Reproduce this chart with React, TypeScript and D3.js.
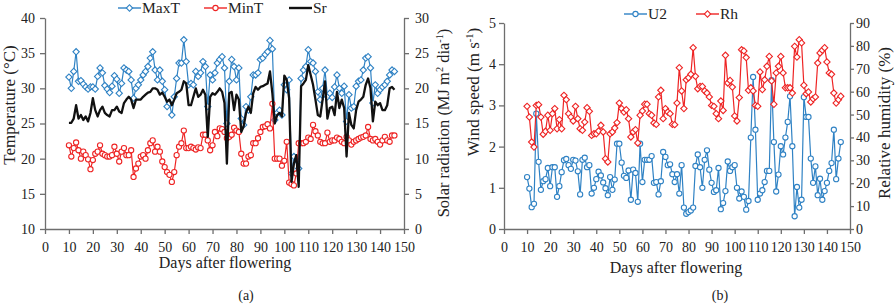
import { useEffect, useRef } from 'react';
import * as d3 from 'd3';

// daily weather, day 10 .. 146 after flowering
const FIRST_DAY = 10;

const maxT = [
  31.6, 30.0, 32.4, 35.2, 31.0, 31.1, 30.6, 30.2, 29.9, 30.2, 30.2, 29.9, 31.7, 32.9, 32.2, 30.4, 29.9, 29.4, 30.3, 31.8,
  31.3, 29.3, 30.7, 32.9, 32.6, 32.4, 31.2, 28.6, 30.0, 30.5, 31.2, 31.9, 32.4, 33.1, 34.3, 35.2, 32.6, 31.2, 32.6, 31.0,
  29.8, 27.4, 27.9, 26.2, 28.8, 31.4, 33.6, 33.6, 36.9, 33.8, 30.5, 30.7, 30.5, 32.4, 31.7, 32.2, 33.8, 33.1, 27.4, 31.9,
  31.2, 32.2, 33.6, 34.1, 34.5, 32.9, 25.0, 31.0, 34.1, 33.1, 31.2, 32.9, 25.7, 24.8, 27.4, 26.9, 28.8, 31.9, 31.9, 32.2,
  34.1, 34.3, 34.8, 35.2, 36.8, 35.6, 25.5, 26.5, 26.9, 26.2, 30.5, 29.8, 31.2, 17.9, 20.3, 19.8, 18.6, 31.4, 32.6, 33.1,
  35.5, 33.8, 33.6, 32.4, 29.5, 28.4, 30.0, 32.6, 28.8, 29.3, 28.7, 30.2, 31.9, 30.0, 29.3, 30.3, 25.3, 29.1, 27.2, 27.4,
  30.3, 31.0, 31.2, 32.6, 34.3, 34.5, 32.9, 27.9, 30.5, 29.3, 29.8, 30.2, 30.5, 31.0, 31.9, 32.6, 32.4,
];

const minT = [
  21.9, 20.3, 21.5, 22.3, 21.2, 20.0, 21.0, 20.5, 19.9, 18.5, 19.8, 20.7, 21.0, 21.9, 20.7, 20.5, 20.3, 20.3, 20.5, 21.7,
  20.7, 19.6, 21.0, 21.5, 20.5, 20.5, 21.2, 17.4, 18.6, 19.3, 20.3, 20.5, 20.0, 21.2, 22.2, 22.6, 21.0, 21.7, 21.0, 19.6,
  18.8, 18.1, 17.7, 16.7, 18.1, 20.5, 21.7, 22.2, 24.0, 21.5, 21.5, 21.7, 21.5, 21.3, 21.6, 21.5, 23.4, 23.4, 22.6, 21.2,
  21.9, 23.8, 23.2, 24.3, 24.2, 23.8, 22.9, 23.1, 23.4, 24.4, 24.0, 23.8, 20.7, 19.3, 19.3, 20.3, 20.5, 22.2, 22.2, 22.9,
  23.8, 24.5, 24.6, 24.9, 24.3, 27.8, 20.0, 20.0, 20.0, 19.0, 19.7, 22.4, 16.6, 16.4, 16.2, 17.9, 22.2, 22.2, 22.2, 22.4,
  23.0, 22.8, 24.8, 23.9, 23.3, 22.4, 22.2, 22.2, 23.7, 22.4, 22.6, 22.6, 23.0, 22.8, 22.4, 22.2, 23.1, 22.6, 22.0, 22.4,
  22.6, 22.8, 23.0, 23.1, 23.3, 24.5, 22.8, 22.6, 22.8, 22.4, 22.0, 22.6, 23.1, 22.6, 22.4, 23.3, 23.3,
];

const sr = [
  15.1, 15.1, 15.7, 17.6, 15.7, 16.2, 15.5, 16.0, 15.3, 16.5, 18.6, 16.9, 16.0, 16.9, 17.4, 16.5, 16.2, 16.0, 16.9, 16.9,
  17.4, 16.7, 16.5, 17.9, 18.4, 18.8, 18.4, 17.2, 18.4, 18.4, 18.4, 18.8, 19.1, 19.4, 19.5, 20.0, 20.0, 19.8, 19.1, 19.4,
  18.8, 18.1, 18.4, 17.6, 18.4, 19.3, 19.5, 19.8, 21.0, 20.7, 17.6, 17.6, 18.8, 20.0, 18.8, 19.1, 19.8, 19.1, 13.1, 18.8,
  19.3, 19.1, 19.5, 20.0, 19.5, 17.9, 9.3, 19.3, 19.5, 16.9, 19.1, 18.4, 13.8, 14.6, 16.5, 17.4, 16.5, 19.3, 20.2, 19.8,
  20.2, 20.3, 20.5, 20.7, 22.4, 19.3, 15.0, 16.2, 16.5, 16.0, 21.8, 21.2, 18.6, 6.7, 9.3, 10.5, 6.0, 20.3, 20.7, 21.2,
  23.3, 21.9, 20.5, 18.4, 16.2, 16.0, 18.4, 21.0, 15.7, 17.2, 17.4, 16.2, 19.5, 17.2, 18.4, 17.2, 10.3, 16.5, 14.8, 14.3,
  16.9, 18.1, 18.4, 18.8, 20.5, 21.4, 20.0, 15.3, 18.1, 17.6, 17.9, 16.9, 16.9, 17.6, 20.0, 20.2, 19.8,
];

const u2 = [
  1.26, 0.98, 0.53, 0.61, 2.80, 1.63, 0.95, 1.16, 1.21, 1.48, 1.04, 1.50, 1.50, 0.78, 1.04, 1.38, 1.67, 1.70, 1.55, 1.46,
  1.68, 1.66, 1.40, 0.84, 1.68, 1.73, 1.50, 1.55, 0.86, 1.00, 1.21, 1.39, 1.30, 1.13, 0.99, 0.82, 1.26, 0.95, 1.20, 2.07,
  2.07, 1.61, 1.29, 1.24, 1.42, 0.71, 1.44, 1.36, 0.66, 2.07, 1.14, 1.68, 1.68, 1.68, 1.77, 1.12, 1.14, 0.84, 1.16, 1.87,
  1.75, 1.55, 1.57, 1.33, 1.14, 1.33, 0.86, 1.55, 0.52, 0.37, 0.41, 0.45, 0.52, 1.53, 1.81, 1.50, 1.00, 1.68, 1.91, 1.44,
  1.12, 0.90, 0.94, 1.48, 0.48, 0.63, 0.92, 1.64, 1.41, 1.50, 1.55, 1.00, 0.74, 0.91, 0.78, 0.47, 0.68, 2.22, 3.69, 2.41,
  0.71, 0.86, 0.94, 1.14, 1.41, 1.41, 3.61, 2.11, 0.91, 1.32, 2.01, 1.81, 2.22, 2.60, 3.22, 2.01, 0.31, 1.02, 0.52, 0.71,
  3.20, 2.72, 2.72, 1.71, 1.12, 1.52, 0.82, 1.22, 0.71, 0.92, 1.12, 1.41, 1.60, 2.41, 1.21, 1.71, 2.11,
];

const rh = [
  53.6, 48.9, 38.0, 35.8, 54.0, 54.3, 48.9, 41.4, 42.7, 49.7, 43.1, 50.4, 52.6, 43.8, 47.8, 43.8, 58.4, 56.5, 50.4, 48.9,
  47.2, 53.6, 48.2, 43.8, 43.1, 46.7, 53.0, 51.4, 40.9, 41.6, 41.6, 42.8, 45.3, 42.4, 30.7, 29.3, 41.6, 42.4, 44.1, 46.5,
  55.0, 52.6, 51.1, 52.1, 48.2, 40.2, 42.4, 43.4, 37.6, 49.7, 51.6, 54.5, 54.5, 50.4, 49.7, 46.3, 45.7, 57.7, 60.6, 48.2,
  52.6, 51.1, 50.4, 45.7, 45.6, 55.0, 70.5, 60.3, 52.6, 65.2, 66.1, 67.6, 79.2, 66.7, 61.3, 62.3, 62.3, 60.3, 59.4, 57.7,
  54.0, 53.6, 50.4, 48.2, 55.9, 51.8, 75.9, 63.8, 64.9, 62.0, 49.4, 47.2, 57.4, 78.3, 77.8, 74.9, 60.6, 61.7, 60.3, 54.0,
  53.6, 68.6, 60.9, 65.2, 71.1, 75.4, 64.7, 54.5, 68.2, 71.1, 75.4, 68.2, 61.7, 61.7, 61.7, 59.4, 79.8, 75.1, 82.7, 81.3,
  62.8, 59.1, 59.9, 55.5, 56.9, 57.7, 72.5, 76.9, 78.1, 79.2, 73.0, 68.2, 67.6, 59.4, 55.0, 56.5, 58.0,
];

const dayTicks = d3.range(0, 151, 10);
const tempTicks = [10, 15, 20, 25, 30, 35, 40];
const srTicks = [0, 5, 10, 15, 20, 25, 30];
const windTicks = [0, 1, 2, 3, 4, 5];
const rhTicks = [0, 10, 20, 30, 40, 50, 60, 70, 80, 90];

const BLUE = '#2f82c4';
const RED = '#ee2424';
const AXIS = '#6e6e6e';
const FONT = 'Liberation Serif';

export default function App() {
  const svgRef = useRef<SVGSVGElement>(null);

  useEffect(() => {
    if (!svgRef.current) return;
    const svg = d3.select(svgRef.current);
    svg.selectAll('*').remove();
    svg.attr('font-family', FONT);

    const days = maxT.map((_, i) => FIRST_DAY + i);
    const fmt = d3.format('d');

    // axis look: grey lines, serif labels
    const styleAxis = (g: any) => {
      g.attr('font-family', FONT).attr('font-size', 14);
      g.select('.domain').attr('stroke', AXIS).attr('stroke-width', 1.3);
      g.selectAll('.tick line').attr('stroke', AXIS).attr('stroke-width', 1.3);
      g.selectAll('.tick text').attr('fill', '#222').attr('font-family', FONT).attr('font-size', 14);
    };

    const marker = (g: any, kind: string, color: string, cx: number, cy: number) => {
      if (kind === 'diamond') {
        g.append('path')
          .attr('d', d3.symbol().type(d3.symbolSquare).size(20)())
          .attr('transform', `translate(${cx},${cy}) rotate(45)`)
          .attr('fill', '#fff')
          .attr('stroke', color)
          .attr('stroke-width', 1.1);
      } else if (kind === 'circle') {
        g.append('circle')
          .attr('cx', cx)
          .attr('cy', cy)
          .attr('r', 2.6)
          .attr('fill', '#fff')
          .attr('stroke', color)
          .attr('stroke-width', 1.1);
      }
    };

    const drawSeries = (g: any, x: any, y: any, values: number[], color: string, width: number, kind: string) => {
      const line = d3.line<number>()
        .x((_, i) => x(days[i]))
        .y(d => y(d));
      g.append('path')
        .datum(values)
        .attr('fill', 'none')
        .attr('stroke', color)
        .attr('stroke-width', width)
        .attr('stroke-linejoin', 'round')
        .attr('d', line);
      if (kind !== 'none') {
        values.forEach((v, i) => marker(g, kind, color, x(days[i]), y(v)));
      }
    };

    const legendItem = (x0: number, y0: number, label: string, color: string, width: number, kind: string) => {
      const lg = svg.append('g');
      lg.append('line')
        .attr('x1', x0).attr('x2', x0 + 23)
        .attr('y1', y0).attr('y2', y0)
        .attr('stroke', color).attr('stroke-width', width);
      marker(lg, kind, color, x0 + 11.5, y0);
      lg.append('text')
        .attr('x', x0 + 24)
        .attr('y', y0 + 5)
        .attr('font-size', 15.5)
        .attr('fill', '#222')
        .text(label);
    };

    const rotTitle = (x0: number, y0: number, parts: [string, boolean][], size: number) => {
      const t = svg.append('text')
        .attr('transform', `translate(${x0},${y0}) rotate(-90)`)
        .attr('text-anchor', 'middle')
        .attr('fill', '#222')
        .attr('font-size', size);
      parts.forEach(([s, sup], i) => {
        const prevSup = i > 0 && parts[i - 1][1];
        const ts = t.append('tspan').text(s);
        if (sup) ts.attr('dy', -6).attr('font-size', size * 0.62);
        else if (prevSup) ts.attr('dy', 6);
      });
    };

    // ---------- (a) temperature & solar radiation ----------
    {
      const left = 45, right = 404, top = 18, bottom = 229;
      const x = d3.scaleLinear().domain([0, 150]).range([left, right]);
      const yT = d3.scaleLinear().domain([10, 40]).range([bottom, top]);
      const yS = d3.scaleLinear().domain([0, 30]).range([bottom, top]);
      const g = svg.append('g');

      g.append('g')
        .attr('transform', `translate(0,${bottom})`)
        .call(d3.axisBottom(x).tickValues(dayTicks).tickFormat(fmt).tickSize(5).tickPadding(8).tickSizeOuter(0))
        .call(styleAxis);
      g.append('g')
        .attr('transform', `translate(${left},0)`)
        .call(d3.axisLeft(yT).tickValues(tempTicks).tickFormat(fmt).tickSize(5).tickPadding(5).tickSizeOuter(0))
        .call(styleAxis);
      g.append('g')
        .attr('transform', `translate(${right},0)`)
        .call(d3.axisRight(yS).tickValues(srTicks).tickFormat(fmt).tickSize(5).tickPadding(6).tickSizeOuter(0))
        .call(styleAxis);

      drawSeries(g, x, yT, maxT, BLUE, 1.2, 'diamond');
      drawSeries(g, x, yT, minT, RED, 1.2, 'circle');
      drawSeries(g, x, yS, sr, '#111', 2.3, 'none');

      legendItem(118, 8, 'MaxT', BLUE, 1.4, 'diamond');
      legendItem(204, 8, 'MinT', RED, 1.4, 'circle');
      legendItem(289, 8, 'Sr', '#111', 2.4, 'none');

      rotTitle(15, 105, [['Temperature (°C)', false]], 17);
      rotTitle(449, 123, [['Solar radiation (MJ m', false], ['2', true], [' dia', false], ['-1', true], [')', false]], 16.5);

      svg.append('text')
        .attr('x', 225).attr('y', 268)
        .attr('text-anchor', 'middle')
        .attr('fill', '#222')
        .attr('font-size', 16)
        .text('Days after flowering');
      svg.append('text')
        .attr('x', 246).attr('y', 300)
        .attr('text-anchor', 'middle')
        .attr('fill', '#222')
        .attr('font-size', 14)
        .text('(a)');
    }

    // ---------- (b) wind speed & relative humidity ----------
    {
      const left = 504, right = 850, top = 23, bottom = 229;
      const x = d3.scaleLinear().domain([0, 150]).range([left, right]);
      const yU = d3.scaleLinear().domain([0, 5]).range([bottom, top]);
      const yR = d3.scaleLinear().domain([0, 90]).range([bottom, top]);
      const g = svg.append('g');

      g.append('g')
        .attr('transform', `translate(0,${bottom})`)
        .call(d3.axisBottom(x).tickValues(dayTicks).tickFormat(fmt).tickSize(5).tickPadding(8).tickSizeOuter(0))
        .call(styleAxis);
      g.append('g')
        .attr('transform', `translate(${left},0)`)
        .call(d3.axisLeft(yU).tickValues(windTicks).tickFormat(fmt).tickSize(5).tickPadding(3).tickSizeOuter(0))
        .call(styleAxis);
      g.append('g')
        .attr('transform', `translate(${right},0)`)
        .call(d3.axisRight(yR).tickValues(rhTicks).tickFormat(fmt).tickSize(4).tickPadding(2).tickSizeOuter(0))
        .call(styleAxis);

      drawSeries(g, x, yU, u2, BLUE, 1.2, 'circle');
      drawSeries(g, x, yR, rh, RED, 1.2, 'diamond');

      legendItem(624, 14, 'U2', BLUE, 1.4, 'circle');
      legendItem(696, 14, 'Rh', RED, 1.4, 'diamond');

      rotTitle(479, 92, [['Wind speed (m s', false], ['-1', true], [')', false]], 17);
      rotTitle(890, 123, [['Relative humidity (%)', false]], 17);

      svg.append('text')
        .attr('x', 676).attr('y', 273)
        .attr('text-anchor', 'middle')
        .attr('fill', '#222')
        .attr('font-size', 16)
        .text('Days after flowering');
      svg.append('text')
        .attr('x', 720).attr('y', 300)
        .attr('text-anchor', 'middle')
        .attr('fill', '#222')
        .attr('font-size', 14)
        .text('(b)');
    }
  }, []);

  return (
    <svg
      ref={svgRef}
      width={895}
      height={306}
      style={{ position: 'absolute', left: 0, top: 0, background: '#fff' }}
    />
  );
}
